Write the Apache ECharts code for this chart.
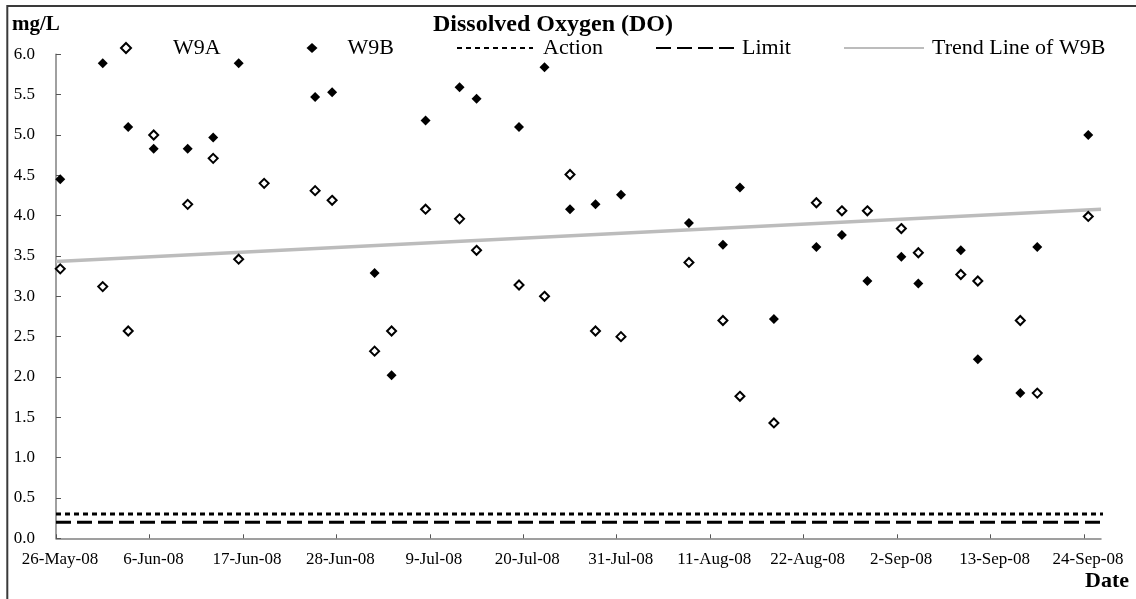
<!DOCTYPE html>
<html><head><meta charset="utf-8">
<script src="https://cdn.jsdelivr.net/npm/echarts@6/dist/echarts.min.js"></script>
<style>html,body{margin:0;padding:0;background:#fff}#c{width:1136px;height:599px}</style>
</head><body><div id="c"></div>
<script>
// ---- data ----
const sampleDates = ['2008-05-26','2008-05-31','2008-06-03','2008-06-06','2008-06-10','2008-06-13','2008-06-16','2008-06-19','2008-06-25','2008-06-27','2008-07-02','2008-07-04','2008-07-08','2008-07-12','2008-07-14','2008-07-19','2008-07-22','2008-07-25','2008-07-28','2008-07-31','2008-08-08','2008-08-12','2008-08-14','2008-08-18','2008-08-23','2008-08-26','2008-08-29','2008-09-02','2008-09-04','2008-09-09','2008-09-11','2008-09-16','2008-09-18','2008-09-24'];
const w9aValues = [3.34,3.12,2.57,5.00,4.14,4.71,3.46,4.40,4.31,4.19,2.32,2.57,4.08,3.96,3.57,3.14,3.00,4.51,2.57,2.50,3.42,2.70,1.76,1.43,4.16,4.06,4.06,3.84,3.54,3.27,3.19,2.70,1.80,3.99];
const w9bValues = [4.45,5.89,5.10,4.83,4.83,4.97,5.89,null,5.47,5.53,3.29,2.02,5.18,5.59,5.45,5.10,5.84,4.08,4.14,4.26,3.91,3.64,4.35,2.72,3.61,3.76,3.19,3.49,3.16,3.57,2.22,1.80,3.61,5.00];
const actionLevel = 0.3;
const limitLevel = 0.2;
const refLineDates = ['2008-05-26','2008-09-27'];
const trendDates = ['2008-05-26','2008-09-26'];
const trendValues = [3.43, 4.08];
const xTickDates = ['2008-05-26','2008-06-06','2008-06-17','2008-06-28','2008-07-09','2008-07-20','2008-07-31','2008-08-11','2008-08-22','2008-09-02','2008-09-13','2008-09-24'];
const axisStartDate = '2008-05-26';
const axisEndDate = '2008-09-26';

// ---- helpers ----
const MONTHS = ['Jan','Feb','Mar','Apr','May','Jun','Jul','Aug','Sep','Oct','Nov','Dec'];
function toUTC(s){ const p = s.split('-').map(Number); return Date.UTC(p[0], p[1]-1, p[2]); }
const base = toUTC(axisStartDate);
function dayIndex(s){ return Math.round((toUTC(s) - base) / 86400000); }
function fmtDay(v){
  const d = new Date(base + Math.round(v) * 86400000);
  return d.getUTCDate() + '-' + MONTHS[d.getUTCMonth()] + '-' + String(d.getUTCFullYear()).slice(2);
}
// Excel date axis places each day's marker in the middle of its day slot
function pts(dates, vals){ return dates.map((s,i) => [dayIndex(s) + 0.5, vals[i]]).filter(p => p[1] != null); }

const FONT = 'Liberation Serif';
const chart = echarts.init(document.getElementById('c'), null, {renderer: 'canvas'});
const txt = (pad) => ({fontFamily: FONT, fontSize: 22, color: '#000', padding: [0,0,0,pad]});
const legendBase = {top: 37, padding: 0, itemHeight: 10, selectedMode: false};

chart.setOption({
  animation: false,
  backgroundColor: '#fff',
  title: {text: 'Dissolved Oxygen (DO)', left: 433, top: 13, padding: 0,
    textStyle: {fontFamily: FONT, fontSize: 24, fontWeight: 'bold', color: '#000'}},
  legend: [
    Object.assign({}, legendBase, {data: ['W9A'], left: 120, itemWidth: 10, textStyle: txt(37)}),
    Object.assign({}, legendBase, {data: ['W9B'], left: 306.5, itemWidth: 11, textStyle: txt(25)}),
    Object.assign({}, legendBase, {data: ['Action'], left: 456, itemWidth: 76, textStyle: txt(5), itemStyle: {opacity: 0}}),
    Object.assign({}, legendBase, {data: ['Limit'], left: 655, itemWidth: 78, textStyle: txt(3), itemStyle: {opacity: 0}}),
    Object.assign({}, legendBase, {data: ['Trend Line of W9B'], left: 843, itemWidth: 80, textStyle: txt(3), itemStyle: {opacity: 0}})
  ],
  grid: {left: 56, right: 35, top: 54.3, bottom: 60.7, containLabel: false},
  xAxis: {
    type: 'value', min: 0, max: dayIndex(axisEndDate),
    axisLine: {show: true, onZero: false, lineStyle: {color: '#808080', width: 1.5}},
    axisTick: {show: true, inside: true, length: 4, lineStyle: {color: '#555'}, customValues: xTickDates.map(dayIndex)},
    axisLabel: {customValues: xTickDates.map(dayIndex), formatter: v => fmtDay(v), margin: 13, padding: [0,0,0,8],
      fontFamily: FONT, fontSize: 17, color: '#000'},
    splitLine: {show: false}
  },
  yAxis: {
    type: 'value', min: 0, max: 6, interval: 0.5,
    axisLine: {show: true, lineStyle: {color: '#808080', width: 1.5}},
    axisTick: {show: true, inside: true, length: 5, lineStyle: {color: '#555'}},
    axisLabel: {formatter: v => v.toFixed(1), margin: 21, fontFamily: FONT, fontSize: 17, color: '#000'},
    splitLine: {show: false}
  },
  graphic: [
    {type: 'rect', silent: true, z: 100, shape: {x: 7.3, y: 6, width: 1150, height: 620},
      style: {fill: 'none', stroke: '#3a3a3a', lineWidth: 2}},
    {type: 'text', silent: true, left: 12, top: 14,
      style: {text: 'mg/L', font: 'bold 21px "Liberation Serif"', fill: '#000'}},
    {type: 'text', silent: true, left: 1085, top: 570,
      style: {text: 'Date', font: 'bold 22px "Liberation Serif"', fill: '#000'}}
  ],
  series: [
    {name: 'Trend Line of W9B', type: 'line', symbol: 'none', silent: true, z: 1,
      data: trendDates.map((s,i) => [dayIndex(s), trendValues[i]]),
      lineStyle: {color: '#bcbcbc', width: 3.5}, itemStyle: {color: '#bcbcbc'}},
    {name: 'Action', type: 'line', symbol: 'none', silent: true, clip: false, z: 2,
      data: refLineDates.map(s => [dayIndex(s), actionLevel]),
      lineStyle: {color: '#000', width: 3, type: [5,4]}, itemStyle: {color: '#000'}},
    {name: 'Limit', type: 'line', symbol: 'none', silent: true, clip: false, z: 2,
      data: refLineDates.map(s => [dayIndex(s), limitLevel]),
      lineStyle: {color: '#000', width: 3, type: [15,6]}, itemStyle: {color: '#000'}},
    {name: 'W9A', type: 'scatter', symbol: 'diamond', symbolSize: 9, z: 3,
      data: pts(sampleDates, w9aValues),
      itemStyle: {color: '#fff', borderColor: '#000', borderWidth: 2, opacity: 1}},
    {name: 'W9B', type: 'scatter', symbol: 'diamond', symbolSize: 10, z: 3,
      data: pts(sampleDates, w9bValues),
      itemStyle: {color: '#000', opacity: 1}}
  ]
});
</script>
</body></html>
